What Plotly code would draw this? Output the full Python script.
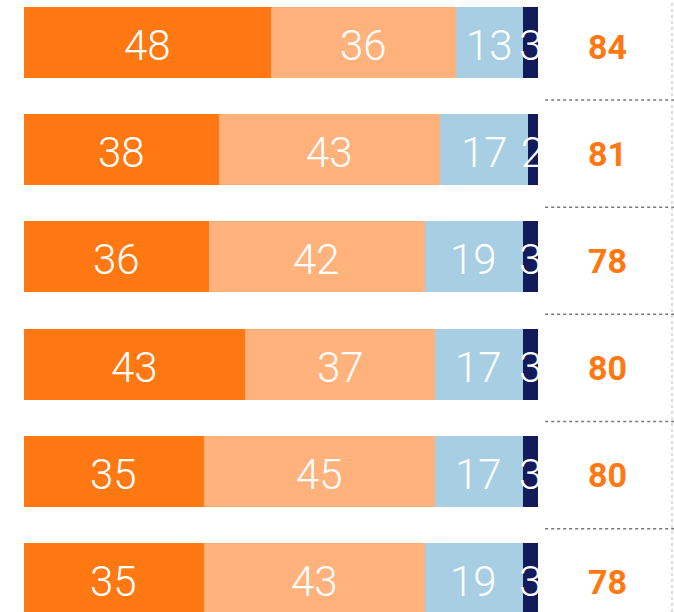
import plotly.graph_objects as go

rows = ["R1", "R2", "R3", "R4", "R5", "R6"]
s1 = [48, 38, 36, 43, 35, 35]
s2 = [36, 43, 42, 37, 45, 43]
s3 = [13, 17, 19, 17, 17, 19]
s4 = [3, 2, 3, 3, 3, 3]
totals = [84, 81, 78, 80, 80, 78]

colors = ["#FF7811", "#FFB27B", "#A7CEE2", "#131B5A"]
series = [s1, s2, s3, s4]

ypos = list(range(len(rows)))
label_font = dict(family="Roboto", size=42, color="white", weight=300)
total_font = dict(family="Roboto", size=34, color="#FF7811", weight="bold")

fig = go.Figure()
for vals, c in zip(series, colors):
    fig.add_trace(go.Bar(y=ypos, x=vals, orientation="h", marker=dict(color=c, line=dict(width=0)),
                         width=0.662, hoverinfo="skip", showlegend=False))

annotations = []
for i in ypos:
    cum = 0
    for vals in series:
        v = vals[i]
        annotations.append(dict(x=cum + v / 2, y=i, text=str(v), showarrow=False, yshift=-3,
                                font=label_font, xanchor="center", yanchor="middle"))
        cum += v
    annotations.append(dict(x=113.6, y=i, text=str(totals[i]), showarrow=False, yshift=-4,
                            font=total_font, xanchor="center", yanchor="middle"))

shapes = []
for i in ypos[:-1]:
    shapes.append(dict(type="line", xref="x", yref="y", x0=101.4, x1=126.5, y0=i + 0.536, y1=i + 0.536,
                       line=dict(color="#777777", width=1.5, dash="dot")))
shapes.append(dict(type="line", xref="x", yref="paper", x0=126.07, x1=126.07, y0=0, y1=1,
                   line=dict(color="#BBBBBB", width=1, dash="dot")))

fig.update_layout(
    barmode="stack",
    width=674, height=612,
    margin=dict(l=24, r=0, t=0, b=0),
    paper_bgcolor="white", plot_bgcolor="white",
    xaxis=dict(range=[0, 126.46], visible=False, fixedrange=True),
    yaxis=dict(range=[5.3134, -0.3965], visible=False, fixedrange=True),
    annotations=annotations,
    shapes=shapes,
)

fig.write_html("out.html", config={"displayModeBar": False},
               post_script="document.body.style.margin='0';document.body.style.overflow='hidden';")
